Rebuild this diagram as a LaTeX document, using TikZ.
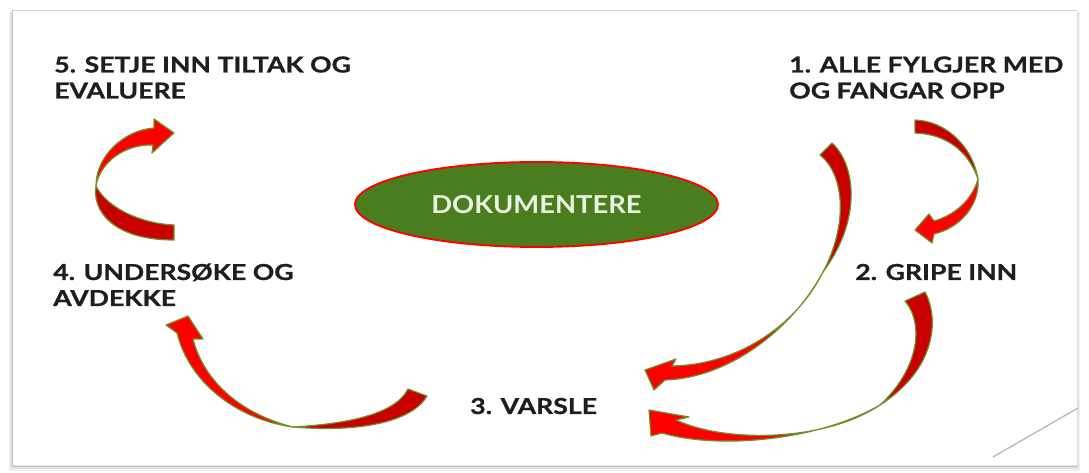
\documentclass[tikz,border=0pt]{standalone}
\usepackage{fontspec}
\usetikzlibrary{shapes.geometric}
\setmainfont{Lato}
\newfontfamily\lblfam{Lato Bold}[FakeStretch=1.21, FakeBold=0.8]
\newfontfamily\ovalfam{Lato Bold}[FakeStretch=1.11]
\definecolor{txt}{HTML}{1E1E1E}
\definecolor{rdark}{HTML}{C80000}
\definecolor{rbright}{HTML}{FF0000}
\definecolor{rimgreen}{HTML}{6E8F2A}
\definecolor{ovalgreen}{HTML}{4A7D1E}
\definecolor{ovaltext}{HTML}{EAF2E2}
\newcommand{\lblfont}{\lblfam\fontsize{16.5}{19.5}\selectfont}
\newcommand{\twoline}[2]{\begin{tabular}[t]{@{}l@{}}#1\\#2\end{tabular}}
\tikzset{
  lbl/.style={anchor=base west, inner sep=0pt, text=txt, font=\lblfont},
  ribdark/.style={fill=rdark, draw=rimgreen, line width=0.9pt, line join=round},
  ribbright/.style={fill=rbright, draw=rimgreen, line width=0.9pt, line join=round},
}
\begin{document}
\begin{tikzpicture}[x=0.75pt, y=-0.75pt]
\useasboundingbox (0,0) rectangle (1089,473);
\fill[white] (0,0) rectangle (1089,473);

% slide frame with a soft shadow on the left and bottom
\fill[gray!12] (9,12) rectangle (1080,471);
\fill[gray!22] (10,12) rectangle (1079,469);
\fill[white] (13,11) rectangle (1077,465);
\draw[gray!35, line width=0.6pt] (12,10) -- (1077,10);
\draw[gray!50, line width=0.7pt] (12,10) -- (12,466) -- (1078,466);
\draw[gray!55, line width=1pt] (993,457) -- (1078,408);

% labels
\node[lbl] (s5) at (54,72.5) {\twoline{5. SETJE INN TILTAK OG}{EVALUERE}};
\node[lbl] (s1) at (789,72.5) {\twoline{1. ALLE FYLGJER MED}{OG FANGAR OPP}};
\node[lbl] (s4) at (53,280) {\twoline{4. UNDERSØKE OG}{AVDEKKE}};
\node[lbl] (s2) at (855,280) {2. GRIPE INN};
\node[lbl] (s3) at (470,414) {3. VARSLE};

% centre oval
\node[ellipse, minimum width=363*0.75pt, minimum height=85*0.75pt, inner sep=0pt,
      fill=ovalgreen, draw=rbright, line width=1.4pt,
      text=ovaltext, font=\ovalfam\fontsize{18.5}{20}\selectfont]
  (doc) at (536.5,204.5) {DOKUMENTERE};

% arrow 4 -> 5
\fill[ribdark] (174,225) .. controls (145,224) and (108,210) .. (96,186)
  .. controls (92,210) and (112,240) .. (174,240) -- cycle;
\fill[ribbright] (96,186) .. controls (96,155) and (125,130) .. (154,128)
  -- (154,119) -- (174,133) -- (152,153) -- (153,145)
  .. controls (125,144) and (100,162) .. (96,186) -- cycle;

% arrow 1 -> 2
\fill[ribdark] (915,120) .. controls (945,121) and (972,145) .. (978,179)
  .. controls (968,150) and (945,134) .. (915,133) -- cycle;
\fill[ribbright] (978,179) .. controls (980,205) and (960,228) .. (934,234)
  -- (932,243) -- (915,230) -- (929,214) -- (934,221)
  .. controls (955,215) and (972,200) .. (978,179) -- cycle;

% arrow 1 -> 3
\fill[ribdark] (832,143) .. controls (856,165) and (862,220) .. (823,272)
  .. controls (848,225) and (845,175) .. (820,155) -- cycle;
\fill[ribbright] (823,272) .. controls (795,328) and (735,365) .. (672,366)
  -- (676,359) -- (645,370) -- (654,390) -- (665,380)
  .. controls (730,378) and (793,328) .. (823,272) -- cycle;

% arrow 2 -> 3
\fill[ribdark] (925,292) .. controls (940,320) and (935,370) .. (880,405)
  .. controls (918,370) and (925,325) .. (905,301) -- cycle;
\fill[ribbright] (880,405) .. controls (820,440) and (720,450) .. (662,433)
  -- (651,436) -- (649,410) -- (689,417) -- (676,420)
  .. controls (725,443) and (825,442) .. (880,405) -- cycle;

% arrow 3 -> 4
\fill[ribdark] (427,396) .. controls (410,425) and (350,432) .. (293,427)
  .. controls (345,424) and (395,415) .. (408,389) -- cycle;
\fill[ribbright] (293,427) .. controls (245,415) and (205,385) .. (193,339)
  -- (203,339) -- (188,316) -- (166,325) -- (177,333)
  .. controls (190,385) and (240,420) .. (293,427) -- cycle;
\end{tikzpicture}
\end{document}
